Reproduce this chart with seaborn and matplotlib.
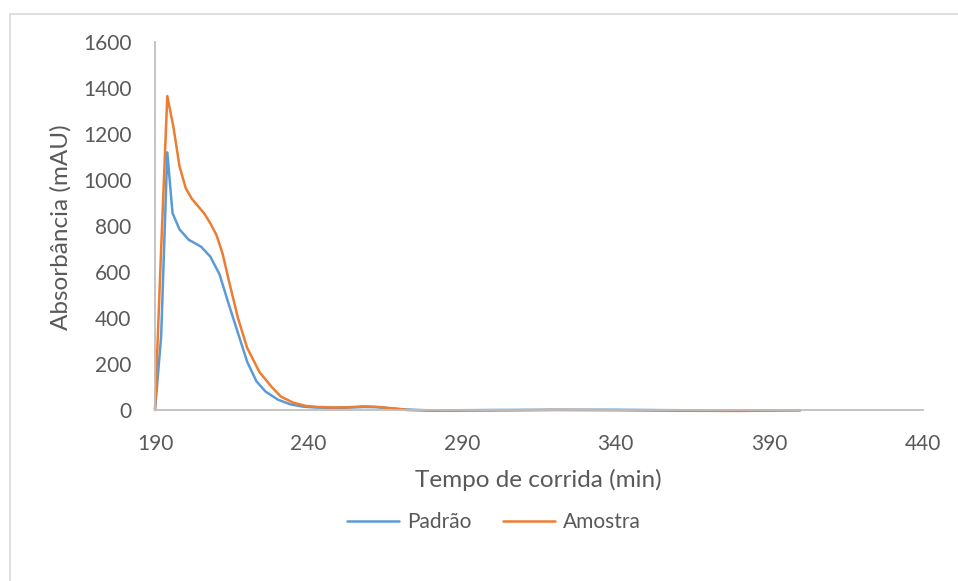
import matplotlib
matplotlib.use("Agg")
import matplotlib.pyplot as plt
import matplotlib.patches as mpatches
import pandas as pd
import seaborn as sns

# Chromatogram readings: run time (min) and absorbance (mAU)
tempo_padrao = [190, 192, 194, 195.7, 198, 201, 205, 208, 211, 214, 217, 220, 223,
                226, 230, 234, 238, 242, 247, 252, 258, 262, 266, 272, 280, 300,
                320, 340, 360, 380, 400]
abs_padrao = [0, 320, 1120, 856, 785, 740, 710, 667, 590, 460, 335, 210, 125,
              80, 45, 25, 15, 11, 9, 10, 13, 12, 8, 2, -2, 0,
              1, 1, -1, -2, -1]

tempo_amostra = [190, 192, 194, 196, 198, 200, 202, 206, 208, 210, 212, 214, 217,
                 220, 224, 228, 231, 235, 239, 243, 248, 253, 258, 262, 266, 272,
                 280, 300, 320, 340, 360, 380, 400]
abs_amostra = [0, 700, 1365, 1230, 1058, 965, 918, 855, 812, 761, 680, 565, 400,
               270, 165, 100, 58, 32, 18, 13, 11, 12, 16, 14, 9, 0,
               -3, -2, 0, -1, -3, -4, -1]

series_names = ["Padrão", "Amostra"]
series_colors = ["#5B9BD5", "#ED7D31"]
x_ticks = [190, 240, 290, 340, 390, 440]
y_ticks = [0, 200, 400, 600, 800, 1000, 1200, 1400, 1600]

df = pd.concat([
    pd.DataFrame({"tempo": tempo_padrao, "abs": abs_padrao, "serie": series_names[0]}),
    pd.DataFrame({"tempo": tempo_amostra, "abs": abs_amostra, "serie": series_names[1]}),
], ignore_index=True)

sns.set_style("white")
plt.rcParams["font.family"] = ["Lato", "DejaVu Sans"]

W, H = 958, 581
fig = plt.figure(figsize=(W / 100, H / 100), dpi=100)
ax = fig.add_axes([155 / W, 1 - 410 / H, (923 - 155) / W, (410 - 42) / H])

sns.lineplot(data=df, x="tempo", y="abs", hue="serie", palette=series_colors,
             hue_order=series_names, linewidth=1.8, sort=False, ax=ax,
             legend=False)

ax.set_xlim(190, 440)
ax.set_ylim(0, 1600)
ax.set_xticks(x_ticks)
ax.set_yticks(y_ticks)
ax.set_xticklabels([str(v) for v in x_ticks])
ax.set_yticklabels([str(v) for v in y_ticks])
ax.tick_params(axis="both", length=0, labelsize=15, labelcolor="#595959")
ax.tick_params(axis="y", pad=17)
ax.tick_params(axis="x", pad=17)
ax.set_xlabel("")
ax.set_ylabel("")

for side in ["top", "right"]:
    ax.spines[side].set_visible(False)
for side in ["left", "bottom"]:
    ax.spines[side].set_color("#BFBFBF")
    ax.spines[side].set_linewidth(1.3)
for line in ax.lines:
    line.set_clip_on(False)

fig.text(538 / W, 1 - 480 / H, "Tempo de corrida (min)", ha="center", va="center",
         fontsize=17.5, color="#595959")
fig.text(61 / W, 1 - 227 / H, "Absorbância (mAU)", ha="center", va="center",
         rotation=90, fontsize=17.5, color="#595959")

handles = [plt.Line2D([], [], color=c, linewidth=1.8) for c in series_colors]
fig.legend(handles, series_names, loc="center", bbox_to_anchor=(494 / W, 1 - 522 / H),
           ncol=2, frameon=False, fontsize=15, handlelength=2.5, handletextpad=0.4,
           columnspacing=1.5, labelcolor="#595959")

# Light chart-area border
fig.patches.append(mpatches.Rectangle((9.5 / W, -0.05), 1.1, 1 - 13.5 / H + 0.05,
                                      transform=fig.transFigure, fill=False,
                                      edgecolor="#D9D9D9", linewidth=1.2))

fig.savefig("out.png", dpi=100)
